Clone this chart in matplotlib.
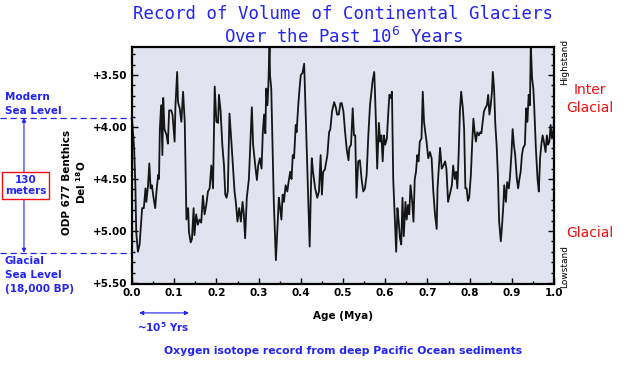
import numpy as np
import matplotlib
matplotlib.use('Agg')
import matplotlib.pyplot as plt
from matplotlib.ticker import MultipleLocator, FormatStrFormatter
from matplotlib.transforms import blended_transform_factory

# ================ data: ODP 677 benthic d18O vs age ================
age = [0.000, 0.005, 0.008, 0.010, 0.014, 0.018, 0.021, 0.024, 0.028, 0.032,
       0.034, 0.038, 0.041, 0.044, 0.047, 0.051, 0.055, 0.058, 0.062, 0.064,
       0.066, 0.069, 0.072, 0.074, 0.077, 0.082, 0.085, 0.088, 0.093, 0.096,
       0.101, 0.103, 0.107, 0.109, 0.113, 0.117, 0.121, 0.125, 0.129, 0.133,
       0.135, 0.139, 0.142, 0.146, 0.148, 0.152, 0.156, 0.160, 0.164, 0.168,
       0.172, 0.176, 0.180, 0.184, 0.188, 0.192, 0.196, 0.200, 0.204, 0.206,
       0.210, 0.214, 0.218, 0.221, 0.224, 0.227, 0.231, 0.235, 0.239, 0.243,
       0.246, 0.250, 0.254, 0.258, 0.262, 0.265, 0.268, 0.272, 0.277, 0.281,
       0.284, 0.287, 0.292, 0.296, 0.299, 0.303, 0.307, 0.310, 0.313, 0.316,
       0.318, 0.321, 0.323, 0.326, 0.327, 0.330, 0.333, 0.336, 0.341, 0.345,
       0.348, 0.351, 0.354, 0.357, 0.360, 0.364, 0.368, 0.371, 0.375, 0.378,
       0.381, 0.384, 0.388, 0.390, 0.394, 0.397, 0.400, 0.404, 0.408, 0.411,
       0.414, 0.417, 0.421, 0.424, 0.426, 0.429, 0.434, 0.439, 0.443, 0.447,
       0.450, 0.453, 0.457, 0.463, 0.467, 0.470, 0.474, 0.479, 0.483, 0.486,
       0.490, 0.494, 0.497, 0.501, 0.505, 0.509, 0.513, 0.515, 0.519, 0.523,
       0.526, 0.529, 0.532, 0.536, 0.540, 0.544, 0.548, 0.552, 0.556, 0.560,
       0.564, 0.568, 0.570, 0.574, 0.576, 0.578, 0.581, 0.585, 0.588, 0.591,
       0.594, 0.597, 0.600, 0.604, 0.607, 0.610, 0.613, 0.616, 0.619, 0.623,
       0.626, 0.629, 0.632, 0.635, 0.638, 0.641, 0.644, 0.648, 0.651, 0.654,
       0.657, 0.660, 0.664, 0.667, 0.670, 0.673, 0.676, 0.679, 0.682, 0.686,
       0.689, 0.692, 0.695, 0.698, 0.702, 0.706, 0.710, 0.714, 0.718, 0.722,
       0.724, 0.727, 0.730, 0.734, 0.738, 0.742, 0.745, 0.749, 0.753, 0.758,
       0.761, 0.765, 0.768, 0.771, 0.774, 0.777, 0.780, 0.784, 0.787, 0.790,
       0.793, 0.796, 0.799, 0.803, 0.806, 0.809, 0.812, 0.815, 0.818, 0.822,
       0.825, 0.828, 0.831, 0.834, 0.837, 0.841, 0.844, 0.847, 0.850, 0.853,
       0.855, 0.858, 0.861, 0.864, 0.867, 0.870, 0.874, 0.877, 0.880, 0.882,
       0.886, 0.889, 0.893, 0.896, 0.899, 0.902, 0.905, 0.908, 0.912, 0.915,
       0.918, 0.921, 0.924, 0.927, 0.931, 0.934, 0.937, 0.940, 0.943, 0.945,
       0.948, 0.951, 0.953, 0.957, 0.961, 0.964, 0.967, 0.970, 0.973, 0.976,
       0.980, 0.983, 0.986, 0.989, 0.992, 0.995, 0.999, 1.000]
d18o = [3.92, 4.20, 4.56, 5.01, 5.20, 5.13, 4.96, 4.78, 4.78, 4.59,
        4.72, 4.56, 4.35, 4.59, 4.56, 4.68, 4.78, 4.62, 4.46, 4.50,
        4.02, 3.79, 4.27, 3.72, 4.02, 4.08, 4.16, 3.84, 3.84, 3.88,
        4.14, 3.79, 3.47, 3.76, 3.82, 3.95, 3.66, 3.95, 4.89, 4.78,
        5.01, 5.11, 5.08, 4.78, 5.04, 4.84, 4.94, 4.89, 4.92, 4.66,
        4.84, 4.75, 4.62, 4.59, 4.37, 4.59, 3.61, 3.95, 3.96, 3.69,
        3.85, 4.17, 4.37, 4.65, 4.68, 4.62, 3.87, 4.11, 4.37, 4.62,
        4.72, 4.91, 4.78, 4.91, 4.72, 4.84, 5.07, 4.68, 4.50, 4.11,
        3.81, 4.17, 4.37, 4.51, 4.37, 4.30, 4.40, 4.05, 3.88, 4.06,
        3.63, 3.79, 3.61, 3.20, 3.50, 3.63, 4.17, 4.72, 5.28, 4.94,
        4.68, 4.78, 4.89, 4.65, 4.72, 4.56, 4.62, 4.53, 4.43, 4.50,
        4.27, 4.30, 3.98, 4.05, 3.79, 3.63, 3.50, 3.48, 3.39, 3.79,
        4.17, 4.62, 5.15, 4.59, 4.30, 4.43, 4.59, 4.68, 4.62, 4.27,
        4.65, 4.43, 4.41, 4.27, 4.05, 4.02, 3.85, 3.76, 3.81, 3.88,
        3.88, 3.77, 3.77, 3.85, 4.05, 4.22, 4.32, 4.20, 4.17, 3.82,
        4.08, 4.08, 4.68, 4.33, 4.32, 4.50, 4.62, 4.59, 4.46, 4.08,
        3.79, 3.63, 3.56, 3.47, 3.69, 3.95, 4.40, 3.96, 4.14, 4.08,
        4.33, 4.08, 4.17, 4.11, 3.88, 3.69, 3.72, 3.66, 4.50, 4.89,
        5.20, 4.78, 4.91, 5.07, 5.13, 4.68, 5.05, 4.72, 4.89, 4.75,
        4.84, 4.56, 4.72, 4.91, 4.50, 4.43, 4.27, 4.33, 4.14, 4.11,
        3.66, 3.95, 4.05, 4.14, 4.30, 4.24, 4.30, 4.62, 4.84, 4.98,
        4.59, 4.40, 4.20, 4.40, 4.37, 4.33, 4.40, 4.72, 4.65, 4.56,
        4.37, 4.50, 4.43, 4.59, 4.27, 3.85, 3.66, 3.82, 4.02, 4.59,
        4.59, 4.71, 4.68, 4.46, 4.17, 3.92, 4.05, 4.14, 4.05, 4.08,
        4.05, 4.06, 3.95, 3.85, 3.82, 3.79, 3.69, 3.88, 3.79, 3.66,
        3.47, 3.63, 3.98, 4.17, 4.46, 4.91, 5.10, 4.94, 4.75, 4.56,
        4.72, 4.53, 4.59, 4.46, 4.27, 4.02, 4.17, 4.27, 4.50, 4.59,
        4.50, 4.43, 4.27, 4.20, 4.17, 3.82, 3.95, 3.69, 3.79, 3.20,
        3.53, 3.63, 3.79, 4.20, 4.50, 4.62, 4.30, 4.17, 4.08, 4.14,
        4.24, 4.08, 4.17, 4.14, 3.98, 4.11, 4.02, 3.93]

modern_level = 3.91    # del18O matching modern sea level
glacial_level = 5.21   # del18O matching last glacial maximum
y_ticks = [3.5, 4.0, 4.5, 5.0, 5.5]

BLUE = '#2323f5'
RED = '#f01010'

# =============================================
W, H = 623, 369
Figure = plt.figure(figsize=(W / 100, H / 100), dpi=100)


def fx(px):
    return px / W


def fy(py):
    return 1 - py / H


ax = Figure.add_axes([fx(132), fy(284), fx(554) - fx(132), fy(47) - fy(284)])
ax.set_facecolor('#e1e3ee')
ax.plot(age, d18o, color='#151515', lw=1.3)
ax.set_xlim(0, 1)
ax.set_ylim(5.51, 3.23)

for s in ax.spines.values():
    s.set_linewidth(1.6)

ax.xaxis.set_major_locator(MultipleLocator(0.1))
ax.xaxis.set_minor_locator(MultipleLocator(0.05))
ax.xaxis.set_major_formatter(FormatStrFormatter('%.1f'))
ax.set_yticks(y_ticks)
ax.yaxis.set_minor_locator(MultipleLocator(0.1))
ax.yaxis.set_major_formatter(FormatStrFormatter('+%.2f'))
ax.tick_params(which='both', direction='in', left=True, right=True,
               bottom=True, top=False, width=1.0)
ax.tick_params(which='major', length=4, labelsize=7.5, pad=3)
ax.tick_params(which='minor', length=2.5)
for lab in ax.get_xticklabels() + ax.get_yticklabels():
    lab.set_fontweight('bold')

ax.set_xlabel('Age (Mya)', fontsize=7.5, fontweight='bold', labelpad=9)

# y label
trans = blended_transform_factory(ax.transAxes, ax.transData)
ax.text(-0.136, 4.53, 'ODP 677 Benthics\nDel $^{\\mathbf{18}}$O', rotation=90,
        ha='center', va='center', multialignment='center', fontsize=7.5,
        fontweight='bold', transform=trans)

# sea level markers on the left
for lev in (modern_level, glacial_level):
    ax.plot([-0.313, 0], [lev, lev], color=BLUE, lw=0.9, ls=(0, (5, 3)),
            transform=trans, clip_on=False)
ax.annotate('', xy=(-0.256, modern_level), xytext=(-0.256, glacial_level),
            xycoords=trans, textcoords=trans,
            arrowprops=dict(arrowstyle='<|-|>', color=BLUE, lw=0.8,
                            mutation_scale=6, shrinkA=0, shrinkB=0))
Figure.text(fx(25.5), fy(185.5), '130\nmeters', ha='center', va='center',
            multialignment='center', color=BLUE, fontsize=7.5, fontweight='bold',
            bbox=dict(boxstyle='square,pad=0.3', fc='white', ec=RED, lw=1))
Figure.text(fx(5), fy(104), 'Modern\nSea Level', ha='left', va='center',
            color=BLUE, fontsize=7.5, fontweight='bold', linespacing=1.5)
Figure.text(fx(5), fy(275), 'Glacial\nSea Level\n(18,000 BP)', ha='left', va='center',
            color=BLUE, fontsize=7.5, fontweight='bold', linespacing=1.45)

# right side labels
Figure.text(fx(565), fy(62), 'Highstand', rotation=90, ha='center', va='center',
            fontsize=6.5)
Figure.text(fx(565), fy(266), 'Lowstand', rotation=90, ha='center', va='center',
            fontsize=6.5)
Figure.text(fx(590), fy(99), 'Inter\nGlacial', ha='center', va='center',
            color=RED, fontsize=10, linespacing=1.3)
Figure.text(fx(590), fy(233), 'Glacial', ha='center', va='center',
            color=RED, fontsize=10)

# ~10^5 yr scale arrow
xtrans = blended_transform_factory(ax.transData, ax.transAxes)
ax.annotate('', xy=(0.017, -0.122), xytext=(0.135, -0.122),
            xycoords=xtrans, textcoords=xtrans,
            arrowprops=dict(arrowstyle='<|-|>', color=BLUE, lw=0.8,
                            mutation_scale=6, shrinkA=0, shrinkB=0))
Figure.text(fx(163), fy(327), '~10$^{\\mathbf{5}}$ Yrs', ha='center', va='center',
            color=BLUE, fontsize=7.5, fontweight='bold')

# titles
Figure.text(fx(343), fy(19), 'Record of Volume of Continental Glaciers',
            ha='center', va='baseline', color=BLUE, fontsize=12.5,
            family='DejaVu Sans Mono')
Figure.text(fx(343), fy(43), 'Over the Past 10$^6$ Years',
            ha='center', va='baseline', color=BLUE, fontsize=12.5,
            family='DejaVu Sans Mono')
Figure.text(fx(343), fy(351), 'Oxygen isotope record from deep Pacific Ocean sediments',
            ha='center', va='center', color=BLUE, fontsize=7.8, fontweight='bold')

Figure.savefig('out.png', dpi=100)
